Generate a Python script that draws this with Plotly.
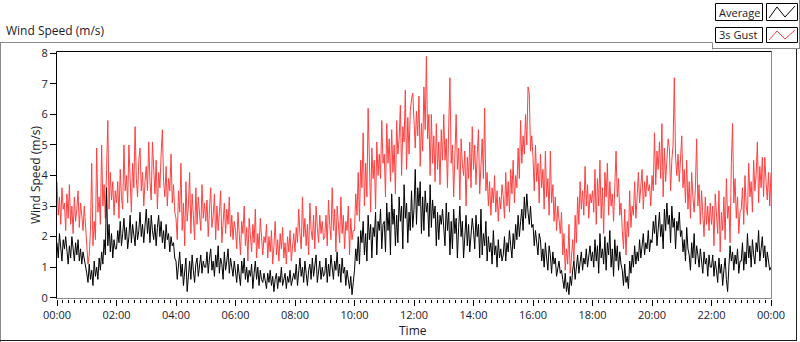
import pandas as pd
import plotly.graph_objects as go

# 2.5-minute samples, values in tenths of m/s (one row per hour)
avg_tenths = [
    18,13,21,15,12,19,16,20,14,11,17,13,20,15,12,18,14,19,12,16,11,15,13,10,
    8,5,11,6,9,4,12,7,10,6,13,9,15,11,19,14,36,17,24,15,21,13,19,16,
    16,22,18,25,17,21,26,19,23,16,20,27,18,24,21,17,25,19,22,28,20,24,18,25,
    29,21,26,18,27,22,19,24,17,23,27,20,25,18,22,16,24,19,21,15,20,17,18,13,
    12,6,10,15,7,11,4,9,13,2,8,12,6,14,9,5,11,13,7,10,14,8,12,10,
    10,15,8,13,16,9,12,7,14,10,17,8,13,11,6,15,9,12,16,8,13,10,7,12,
    9,5,11,7,4,12,8,13,6,10,5,9,7,11,3,8,12,6,10,4,9,6,5,8,
    6,3,8,5,9,4,7,2,6,8,3,7,5,10,4,6,8,3,7,5,9,4,6,8,
    6,11,4,9,13,7,10,5,12,8,4,9,11,6,13,7,10,14,5,9,12,6,10,7,
    8,13,5,11,7,14,10,6,12,9,15,7,11,5,13,8,10,4,9,6,3,7,1,5,
    9,16,12,20,11,22,18,25,14,21,12,27,19,24,13,23,20,28,14,25,22,29,16,24,
    25,15,31,22,28,14,34,24,29,17,27,18,33,25,30,16,37,26,31,18,28,22,35,23,
    29,42,24,36,30,38,21,33,22,35,28,31,20,37,23,32,26,30,17,28,19,27,24,29,
    24,17,31,22,28,14,25,16,29,21,26,13,23,30,20,25,13,22,27,17,24,15,21,26,
    22,16,27,20,24,13,29,14,21,17,25,12,20,15,18,11,22,14,17,10,19,13,16,12,
    14,20,12,18,15,22,17,13,21,16,24,19,27,20,25,29,22,33,26,34,28,24,30,23,
    24,17,22,18,14,21,19,12,16,10,18,13,9,17,14,8,15,11,13,7,10,12,8,9,
    6,3,8,2,5,1,7,4,9,12,6,10,14,8,12,15,9,13,11,16,10,14,17,12,
    15,10,19,12,17,8,21,13,16,11,20,9,18,14,22,10,16,7,19,12,17,9,15,11,
    9,4,11,5,7,3,12,8,14,10,17,11,15,12,19,13,17,21,14,18,16,22,15,19,
    18,25,21,27,17,23,28,20,24,16,29,22,31,24,27,18,30,23,26,16,25,22,28,20,
    22,15,19,12,23,16,14,9,18,13,21,11,17,14,10,16,12,8,15,11,13,7,14,10,
    10,14,7,12,9,5,13,8,11,4,9,13,6,2,10,17,12,15,9,14,11,16,8,12,
    12,18,9,15,11,21,13,17,10,19,14,11,18,15,22,12,16,20,13,17,10,15,12,9,
    10,
]
gust_tenths = [
    38,27,33,24,36,29,31,22,34,26,37,24,30,21,33,25,29,35,23,31,27,22,30,24,
    18,11,14,22,44,17,25,19,49,28,33,24,50,30,37,26,42,58,29,41,32,38,27,35,
    31,38,26,42,33,29,50,35,40,31,50,37,28,44,36,56,39,33,45,49,35,41,30,38,
    43,35,51,38,32,51,40,34,45,29,41,36,47,55,38,33,43,30,39,35,47,31,37,28,
    26,19,35,28,44,22,31,17,38,25,30,41,21,34,27,19,36,24,33,28,22,37,26,31,
    25,32,20,29,36,23,27,34,19,30,22,28,35,18,26,31,21,29,24,33,20,27,19,25,
    22,16,28,19,14,25,21,30,17,23,12,26,19,15,24,18,29,13,21,16,26,18,14,20,
    18,24,13,20,15,22,11,17,25,14,19,12,21,16,23,13,18,11,20,15,22,12,17,21,
    15,23,18,29,21,16,33,20,26,17,24,14,31,22,19,27,16,30,23,18,27,21,25,19,
    20,27,17,32,24,19,36,22,29,15,30,24,18,33,21,27,16,25,22,30,14,26,19,22,
    22,34,27,41,25,45,36,54,30,44,33,62,41,28,49,39,45,29,51,40,47,39,58,44,
    47,33,57,44,52,38,55,41,50,34,58,47,52,63,40,56,51,68,42,59,47,61,65,67,
    58,49,61,53,66,43,57,48,69,55,79,52,60,40,60,44,53,38,57,42,51,37,55,45,
    60,45,52,36,56,72,44,50,33,47,60,42,49,32,52,44,40,48,30,46,39,51,36,56,
    42,50,37,47,55,34,44,52,39,62,35,41,30,38,27,36,31,40,28,35,25,33,29,37,
    33,26,41,30,38,28,42,34,45,31,40,36,49,39,58,44,53,47,60,50,69,67,48,53,
    46,35,50,38,44,31,47,36,42,29,48,33,39,27,48,31,37,25,33,22,30,26,21,28,
    14,21,9,16,11,24,8,13,19,12,27,18,33,24,38,29,35,27,43,30,37,26,34,31,
    35,28,42,24,39,30,45,26,36,21,41,33,44,27,38,30,34,25,40,48,33,39,27,31,
    22,16,29,14,25,20,35,23,30,27,38,26,33,41,31,36,42,29,38,33,40,35,37,30,
    40,35,54,37,48,42,51,39,57,33,49,38,47,52,49,35,45,50,72,46,40,47,38,44,
    53,36,42,31,45,29,38,26,41,33,28,36,52,30,37,24,35,27,20,33,24,30,22,31,
    24,30,17,34,26,21,35,15,28,22,33,19,39,26,30,18,44,57,31,39,26,33,21,28,
    29,36,24,40,30,27,44,33,38,28,45,35,40,51,31,43,36,46,33,46,38,32,41,30,
    41,
]
series_names = ["Average", "3s Gust"]
y_ticks = [0, 1, 2, 3, 4, 5, 6, 7, 8]
STEP = "150s"

t_avg = pd.date_range("2000-01-01 00:00", periods=len(avg_tenths), freq=STEP)
t_gust = pd.date_range("2000-01-01 00:00", periods=len(gust_tenths), freq=STEP)
avg = [v / 10 for v in avg_tenths]
gust = [v / 10 for v in gust_tenths]

FONT = "Segoe UI, Open Sans, sans-serif"
TXT = "#1a1a2a"

# layout geometry in pixels
W, H = 800, 342
L, R, T, B = 57, 29, 52, 43
PW, PH = W - L - R, H - T - B


def px(x):
    return (x - L) / PW


def py(y):
    return (T + PH - y) / PH


fig = go.Figure()
fig.add_trace(go.Scatter(x=t_gust, y=gust, mode="lines", name=series_names[1],
                         line=dict(color="#ff4040", width=1)))
fig.add_trace(go.Scatter(x=t_avg, y=avg, mode="lines", name=series_names[0],
                         line=dict(color="#000000", width=1)))

shapes = []


def line(x0, y0, x1, y1, color, width=1):
    shapes.append(dict(type="line", xref="paper", yref="paper",
                       x0=px(x0), y0=py(y0), x1=px(x1), y1=py(y1),
                       line=dict(color=color, width=width), layer="above"))


def rect(x0, y0, x1, y1, color, fill="white"):
    shapes.append(dict(type="rect", xref="paper", yref="paper",
                       x0=px(x0), y0=py(y0), x1=px(x1), y1=py(y1),
                       line=dict(color=color, width=1), fillcolor=fill, layer="above"))


# plot area border (black top/left, gray right/bottom)
line(56.5, 51.5, 772, 51.5, "#000000")
line(56.5, 51.5, 56.5, 299, "#000000")
line(771.5, 51.5, 771.5, 299, "#8a8a8a")
line(56.5, 298.5, 772, 298.5, "#8a8a8a")

# outer frame
line(0, 42.5, 712.5, 42.5, "#8a8a8a")
line(0.5, 42.5, 0.5, 342, "#8a8a8a")
line(796.5, 49, 796.5, 341, "#202020")
line(0, 340.5, 797, 340.5, "#202020")
# legend panel
line(712.5, 42.5, 712.5, 49.5, "#8a8a8a")
line(712.5, 48.5, 800, 48.5, "#8a8a8a")
line(799.5, 0, 799.5, 49, "#8a8a8a")

# legend boxes
rect(715.5, 3.5, 762.5, 20.5, "#000000")
rect(766.5, 3.5, 797.5, 20.5, "#000000")
rect(715.5, 27.5, 762.5, 42.5, "#000000")
rect(766.5, 27.5, 797.5, 42.5, "#000000")


def zig(y0, y1, color):
    pts = [(769, y1), (777, y0), (785, y1 - 1), (795, y0 - 1)]
    path = "M " + " L ".join(f"{px(a)},{py(b)}" for a, b in pts)
    shapes.append(dict(type="path", xref="paper", yref="paper", path=path,
                       line=dict(color=color, width=1), layer="above"))


zig(7, 18, "#000000")
zig(31, 40, "#ff4040")

annotations = [
    dict(text="Wind Speed (m/s)", x=px(4), y=py(31), xref="paper", yref="paper",
         xanchor="left", yanchor="middle", showarrow=False,
         font=dict(family=FONT, size=12, color=TXT)),
    dict(text="Wind Speed (m/s)", x=px(35), y=py(175), xref="paper", yref="paper",
         xanchor="center", yanchor="middle", showarrow=False, textangle=-90,
         font=dict(family=FONT, size=12, color=TXT)),
    dict(text="Time", x=px(412.5), y=py(330), xref="paper", yref="paper",
         xanchor="center", yanchor="middle", showarrow=False,
         font=dict(family=FONT, size=12, color=TXT)),
    dict(text=series_names[0], x=px(717), y=py(12), xref="paper", yref="paper",
         xanchor="left", yanchor="middle", showarrow=False,
         font=dict(family=FONT, size=11, color=TXT)),
    dict(text=series_names[1], x=px(717), y=py(35), xref="paper", yref="paper",
         xanchor="left", yanchor="middle", showarrow=False,
         font=dict(family=FONT, size=11, color=TXT)),
]

fig.update_layout(
    width=W, height=H,
    margin=dict(l=L, r=R, t=T, b=B, pad=0),
    paper_bgcolor="white", plot_bgcolor="white",
    showlegend=False,
    shapes=shapes, annotations=annotations,
    font=dict(family=FONT, size=11, color=TXT),
    xaxis=dict(
        type="date",
        range=["2000-01-01 00:00", "2000-01-02 00:00"],
        tick0="2000-01-01 00:00", dtick=2 * 3600 * 1000,
        tickformat="%H:%M",
        ticks="outside", ticklen=6, tickcolor="#000000", tickwidth=1,
        minor=dict(dtick=12 * 60 * 1000, ticks="outside", ticklen=3,
                   tickcolor="#000000", tickwidth=1, showgrid=False),
        showgrid=False, zeroline=False, showline=False,
        tickfont=dict(family=FONT, size=11, color=TXT),
        fixedrange=True,
    ),
    yaxis=dict(
        range=[-0.042, 8.043],
        tickvals=y_ticks,
        ticks="outside", ticklen=6, tickcolor="#000000", tickwidth=1,
        showgrid=False, zeroline=False, showline=False,
        tickfont=dict(family=FONT, size=11, color=TXT),
        fixedrange=True,
    ),
)

fig.write_html(
    "out.html",
    config={"displayModeBar": False},
    post_script="document.body.style.margin='0';document.body.style.overflow='hidden';",
)
